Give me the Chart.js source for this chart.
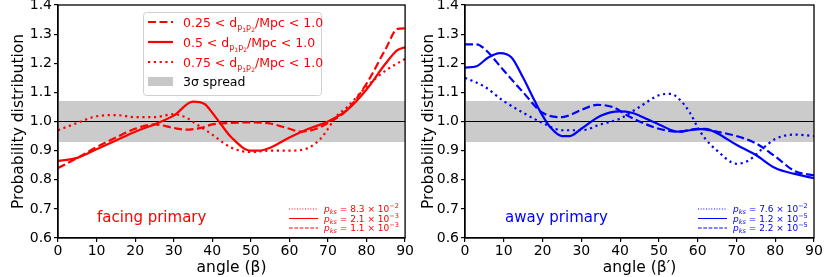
<!DOCTYPE html>
<html>
<head>
<meta charset="utf-8">
<script src="https://cdn.jsdelivr.net/npm/chart.js@4"></script>
<style>
  body { margin: 0; background: #fff; }
  #wrap { display: flex; width: 830px; height: 277px; }
  canvas { display: block; }
</style>
</head>
<body>
<div id="wrap">
  <canvas id="left" width="415" height="277"></canvas>
  <canvas id="right" width="415" height="277"></canvas>
</div>
<script>
// facing primary (left panel)
const facingDashedX = [0, 5, 10, 15, 20, 25, 30, 33, 37, 40, 45, 50, 55, 60, 63, 67, 70, 75, 80, 85, 88, 90]
const facingDashedY = [0.84, 0.875, 0.912, 0.945, 0.975, 0.99, 0.978, 0.972, 0.978, 0.99, 0.995, 0.997, 0.993, 0.975, 0.965, 0.975, 0.995, 1.04, 1.13, 1.25, 1.318, 1.32]
const facingSolidX = [0, 5, 10, 15, 20, 25, 30, 35, 38, 40, 42, 45, 50, 52, 55, 60, 65, 70, 75, 80, 85, 88, 90]
const facingSolidY = [0.865, 0.875, 0.905, 0.935, 0.965, 0.99, 1.02, 1.068, 1.06, 1.03, 0.995, 0.945, 0.9, 0.9, 0.91, 0.945, 0.975, 1.0, 1.04, 1.11, 1.2, 1.245, 1.255]
const facingDottedX = [0, 5, 10, 15, 20, 25, 30, 33, 36, 40, 45, 50, 55, 60, 65, 68, 70, 72, 75, 80, 85, 90]
const facingDottedY = [0.97, 0.995, 1.018, 1.022, 1.015, 1.015, 1.025, 1.015, 0.99, 0.955, 0.91, 0.895, 0.9, 0.9, 0.91, 0.94, 0.975, 1.015, 1.05, 1.12, 1.175, 1.215]

// away primary (right panel)
const awayDashedX = [0, 3, 5, 10, 15, 20, 25, 30, 34, 38, 42, 45, 50, 55, 60, 65, 70, 75, 80, 85, 90]
const awayDashedY = [1.265, 1.265, 1.25, 1.175, 1.1, 1.03, 1.015, 1.04, 1.057, 1.05, 1.02, 1.0, 0.975, 0.965, 0.975, 0.965, 0.95, 0.925, 0.88, 0.83, 0.815]
const awaySolidX = [0, 3, 6, 9, 12, 15, 18, 20, 22, 25, 27, 30, 35, 40, 43, 45, 50, 55, 58, 62, 65, 70, 75, 80, 85, 90]
const awaySolidY = [1.185, 1.19, 1.22, 1.235, 1.22, 1.15, 1.07, 1.02, 0.98, 0.95, 0.95, 0.975, 1.02, 1.035, 1.03, 1.02, 0.99, 0.965, 0.97, 0.975, 0.96, 0.92, 0.885, 0.84, 0.82, 0.805]
const awayDottedX = [0, 5, 10, 15, 20, 25, 30, 35, 40, 45, 50, 53, 55, 58, 60, 62, 65, 70, 73, 77, 80, 85, 90]
const awayDottedY = [1.15, 1.12, 1.07, 1.03, 0.995, 0.97, 0.97, 0.99, 1.01, 1.05, 1.09, 1.095, 1.08, 1.03, 0.98, 0.94, 0.9, 0.855, 0.865, 0.91, 0.94, 0.955, 0.95]

const bandLow = 0.93
const bandHigh = 1.07
const refLine = 1.0
const yTicks = [0.6, 0.7, 0.8, 0.9, 1.0, 1.1, 1.2, 1.3, 1.4]
const xTicks = [0, 10, 20, 30, 40, 50, 60, 70, 80, 90]

const FONT = '"DejaVu Sans", sans-serif'

function pts(xs, ys) {
  return xs.map((x, i) => ({ x, y: ys[i] }))
}

function drawRich(ctx, x, y, parts, color) {
  let cx = x
  ctx.fillStyle = color
  ctx.textBaseline = 'alphabetic'
  ctx.textAlign = 'left'
  parts.forEach(([t, size, dy, it]) => {
    ctx.font = (it ? 'italic ' : '') + size + 'px ' + FONT
    ctx.fillText(t, cx, y + dy)
    cx += ctx.measureText(t).width
  })
}

function sampleLine(ctx, x1, x2, y, color, dash, width) {
  ctx.save()
  ctx.strokeStyle = color
  ctx.lineWidth = width
  ctx.setLineDash(dash)
  ctx.beginPath()
  ctx.moveTo(x1, y)
  ctx.lineTo(x2, y)
  ctx.stroke()
  ctx.restore()
}

const DASH = [8, 3.5]
const DOT = [2.2, 3.6]

function makeChart(id, cfg) {
  const color = cfg.color
  const curve = (data, dash, label) => ({
    label,
    data,
    borderColor: color,
    borderWidth: 2.2,
    borderDash: dash,
    borderCapStyle: 'butt',
    pointRadius: 0,
    fill: false,
    cubicInterpolationMode: 'monotone',
    order: 1
  })

  const extras = {
    id: 'extras',
    afterDraw(chart) {
      const ctx = chart.ctx
      const a = chart.chartArea
      ctx.save()
      ctx.strokeStyle = '#000'
      ctx.lineWidth = 1.3
      ctx.strokeRect(a.left, a.top, a.right - a.left, a.bottom - a.top)

      // panel label
      ctx.fillStyle = color
      ctx.font = '15px ' + FONT
      ctx.textBaseline = 'middle'
      ctx.fillText(cfg.label, a.left + cfg.labelDx, 218)

      // p_ks legend
      const dashes = [[1, 1.65], [], [3.7, 1.6]]
      cfg.pks.forEach((p, i) => {
        const y = 209 + i * 9.5
        sampleLine(ctx, a.right - cfg.pksDx, a.right - cfg.pksDx + 29, y, color, dashes[i], 1)
        drawRich(ctx, a.right - cfg.pksDx + 35, y + 3, [
          ['p', 9, 0, true], ['ks', 6.5, 2, true], [' = ' + p[0] + ' \u00d7 10', 9, 0, false], ['\u2212' + p[1], 6.5, -4, false]
        ], color)
      })

      if (cfg.legend) {
        const bx = a.left + 85, by = 12, bw = 178, bh = 83
        ctx.fillStyle = 'rgba(255,255,255,0.85)'
        ctx.strokeStyle = '#d0d0d0'
        ctx.lineWidth = 1
        ctx.beginPath()
        ctx.roundRect(bx + 0.5, by + 0.5, bw, bh, 3)
        ctx.fill()
        ctx.stroke()
        const labels = ['0.25', '0.5', '0.75']
        const lineDash = [DASH, [], DOT]
        labels.forEach((l, i) => {
          const y = 22 + i * 20
          sampleLine(ctx, bx + 5, bx + 30, y, color, lineDash[i], 2.2)
          drawRich(ctx, bx + 40, y + 4.5, [
            [l + ' < d', 12.5, 0, false], ['p', 8, 3, false], ['1', 6, 5, false], ['p', 8, 3, false], ['2', 6, 5, false], ['/Mpc < 1.0', 12.5, 0, false]
          ], color)
        })
        ctx.fillStyle = '#c8c8c8'
        ctx.fillRect(bx + 5, 77, 25, 9)
        drawRich(ctx, bx + 40, 86, [['3\u03c3 spread', 12.5, 0, false]], '#000')
      }
      ctx.restore()
    }
  }

  return new Chart(document.getElementById(id), {
    type: 'line',
    data: {
      datasets: [
        curve(pts(cfg.dashedX, cfg.dashedY), DASH, 'dashed'),
        curve(pts(cfg.solidX, cfg.solidY), [], 'solid'),
        curve(pts(cfg.dottedX, cfg.dottedY), DOT, 'dotted'),
        { data: [{ x: 0, y: refLine }, { x: 90, y: refLine }], borderColor: '#000', borderWidth: 1.2, pointRadius: 0, order: 5 },
        { data: [{ x: 0, y: bandHigh }, { x: 90, y: bandHigh }], borderWidth: 0, pointRadius: 0, fill: '+1', backgroundColor: '#cbcbcb', order: 10 },
        { data: [{ x: 0, y: bandLow }, { x: 90, y: bandLow }], borderWidth: 0, pointRadius: 0, fill: false, order: 10 }
      ]
    },
    options: {
      responsive: false,
      animation: false,
      layout: { padding: { top: 5, right: cfg.padRight, left: 0, bottom: 0 } },
      plugins: { legend: { display: false }, tooltip: { enabled: false } },
      scales: {
        x: {
          type: 'linear', min: 0, max: 90,
          afterBuildTicks: s => { s.ticks = xTicks.map(v => ({ value: v })) },
          afterFit: s => { s.height = 39 },
          grid: { drawOnChartArea: false, tickLength: 4, color: '#000', lineWidth: 1.2 },
          border: { color: '#000', width: 1.3 },
          ticks: { color: '#000', font: { family: FONT, size: 14 }, padding: 1, maxRotation: 0 },
          title: { display: true, text: cfg.xTitle, color: '#000', font: { family: FONT, size: 15.5 }, padding: { top: 0, bottom: 0 } }
        },
        y: {
          min: 0.6, max: 1.4,
          afterBuildTicks: s => { s.ticks = yTicks.map(v => ({ value: v })) },
          afterFit: s => { s.width = cfg.yWidth; s.paddingTop = 0; s.paddingBottom = 0 },
          grid: { drawOnChartArea: false, tickLength: 4, color: '#000', lineWidth: 1.2 },
          border: { color: '#000', width: 1.3 },
          ticks: { color: '#000', font: { family: FONT, size: 14 }, padding: 2, callback: v => v.toFixed(1) },
          title: { display: true, text: 'Probability distribution', color: '#000', font: { family: FONT, size: 15.5 }, padding: { top: cfg.yTitlePad, bottom: 0 } }
        }
      }
    },
    plugins: [extras]
  })
}

makeChart('left', {
  color: '#ff0000',
  dashedX: facingDashedX, dashedY: facingDashedY,
  solidX: facingSolidX, solidY: facingSolidY,
  dottedX: facingDottedX, dottedY: facingDottedY,
  label: 'facing primary', labelDx: 39,
  pks: [['8.3', '2'], ['2.1', '3'], ['1.1', '3']], pksDx: 116,
  legend: true,
  xTitle: 'angle (\u03b2)',
  yWidth: 58, padRight: 9, yTitlePad: 10
})

makeChart('right', {
  color: '#0000ff',
  dashedX: awayDashedX, dashedY: awayDashedY,
  solidX: awaySolidX, solidY: awaySolidY,
  dottedX: awayDottedX, dottedY: awayDottedY,
  label: 'away primary', labelDx: 40,
  pks: [['7.6', '2'], ['1.2', '5'], ['2.2', '5']], pksDx: 116,
  legend: false,
  xTitle: 'angle (\u03b2\u2032)',
  yWidth: 50, padRight: 16, yTitlePad: 5
})
</script>
</body>
</html>
